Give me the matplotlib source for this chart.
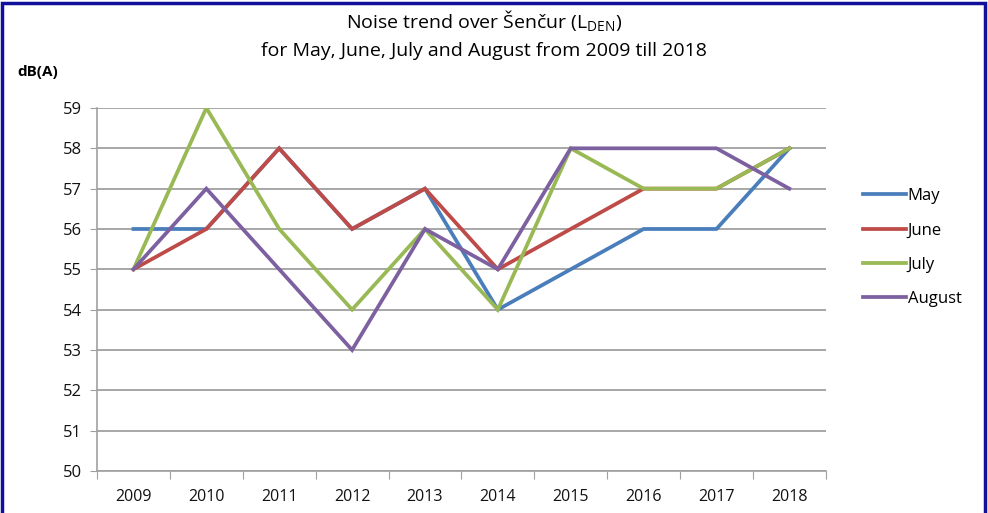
import matplotlib.pyplot as plt
from matplotlib.patches import Rectangle

plt.rcParams['font.family'] = ['Open Sans', 'DejaVu Sans']

years = ['2009', '2010', '2011', '2012', '2013', '2014', '2015', '2016', '2017', '2018']
may = [56, 56, 58, 56, 57, 54, 55, 56, 56, 58]
june = [55, 56, 58, 56, 57, 55, 56, 57, 57, 58]
july = [55, 59, 56, 54, 56, 54, 58, 57, 57, 58]
august = [55, 57, 55, 53, 56, 55, 58, 58, 58, 57]

series = [('May', may, '#4a7ebb'), ('June', june, '#be4b48'),
          ('July', july, '#98b954'), ('August', august, '#7d60a0')]

fig = plt.figure(figsize=(9.88, 5.13), dpi=100)
ax = fig.add_axes([0.0982, 0.0819, 0.7376, 0.7076])

x = list(range(len(years)))
for name, vals, color in series:
    ax.plot(x, vals, color=color, linewidth=2.7, label=name, solid_joinstyle='miter')

ax.set_xlim(-0.5, len(years) - 0.5)
ax.set_ylim(50, 59)
ax.set_yticks(range(50, 60))
ax.yaxis.grid(True, color='#a0a0a0', linewidth=1.3)
ax.set_axisbelow(True)

# category boundaries get the tick marks, labels sit at centers
ax.set_xticks([i - 0.5 for i in range(len(years) + 1)])
ax.set_xticklabels([])
ax.set_xticks(x, minor=True)
ax.set_xticklabels(years, minor=True)
ax.tick_params(axis='x', which='major', length=6, color='#a0a0a0')
ax.tick_params(axis='x', which='minor', length=0, pad=13, labelsize=11.5, labelcolor='#111111')
ax.tick_params(axis='y', length=5, color='#a0a0a0', labelsize=12, pad=6, labelcolor='#111111')

for side in ['top', 'right']:
    ax.spines[side].set_visible(False)
for side in ['left', 'bottom']:
    ax.spines[side].set_color('#a0a0a0')
    ax.spines[side].set_linewidth(1.2)

fig.text(0.49, 0.958, r'Noise trend over Šenčur (L$_\mathregular{DEN}$)',
         ha='center', va='center', fontsize=14)
fig.text(0.49, 0.9, 'for May, June, July and August from 2009 till 2018',
         ha='center', va='center', fontsize=14)
fig.text(0.018, 0.86, 'dB(A)', ha='left', va='center', fontsize=11, fontweight='bold')

fig.legend(loc='center left', bbox_to_anchor=(0.858, 0.517), frameon=False,
           fontsize=12, handlelength=2.6, handletextpad=0.1, labelspacing=1.1)

fig.patches.append(Rectangle((0.002, -0.05), 0.995, 1.045, transform=fig.transFigure,
                             fill=False, edgecolor='#10109a', linewidth=2.5))

fig.savefig('out.png', dpi=100)
